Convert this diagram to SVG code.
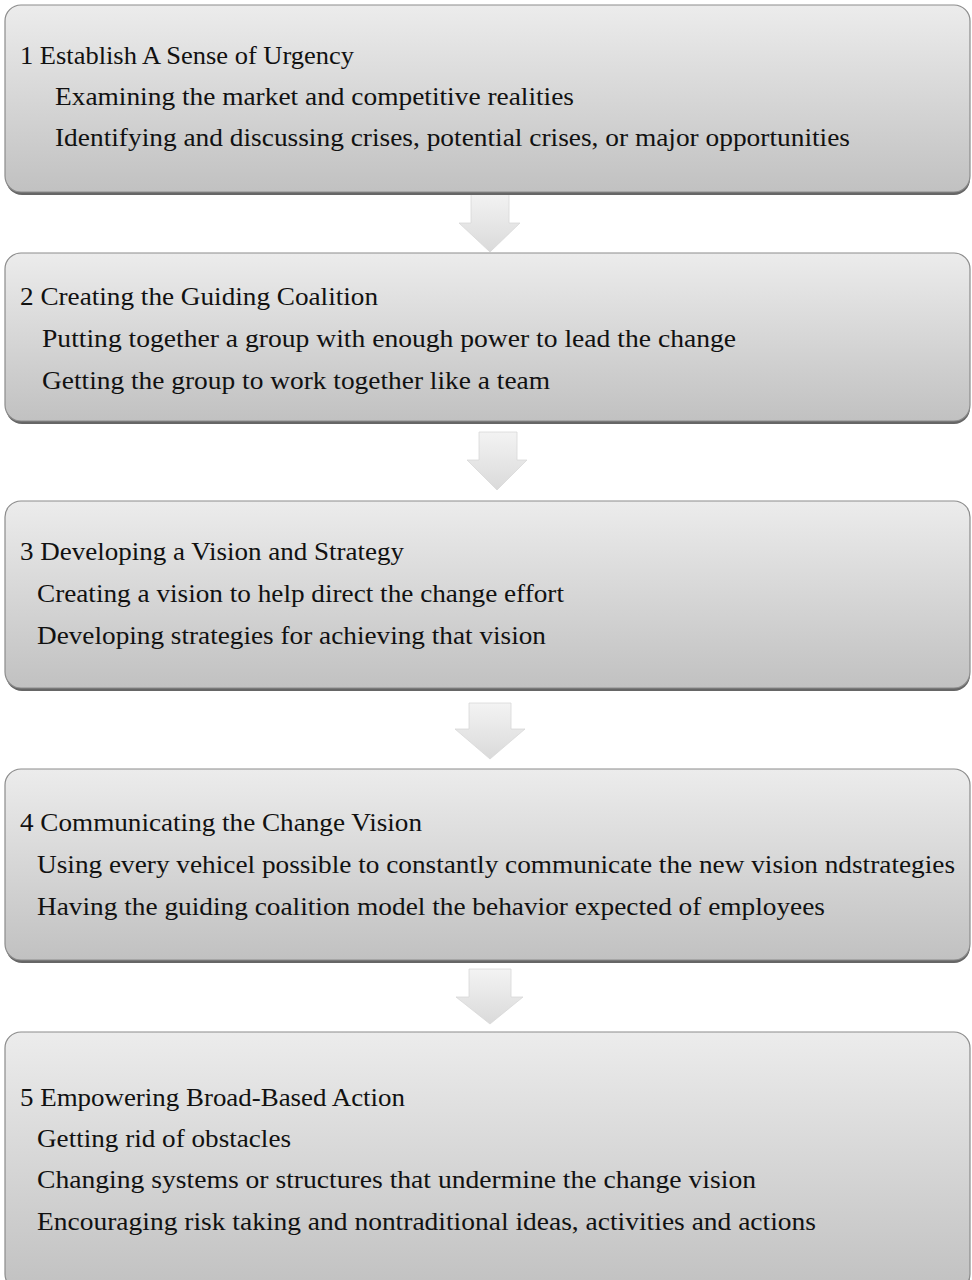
<svg xmlns="http://www.w3.org/2000/svg" width="972" height="1280" viewBox="0 0 972 1280">
<defs>
<linearGradient id="boxg" x1="0" y1="0" x2="0" y2="1">
<stop offset="0" stop-color="#ececec"/>
<stop offset="1" stop-color="#c1c1c1"/>
</linearGradient>
<linearGradient id="arrg" x1="0" y1="0" x2="0" y2="1">
<stop offset="0" stop-color="#f3f3f3"/>
<stop offset="1" stop-color="#dadada"/>
</linearGradient>
<style>
.shadow{fill:#666666;}
.box{fill:url(#boxg);stroke:#8c8c8c;stroke-width:1.2;}
.arrow{fill:url(#arrg);stroke:#d8d8d8;stroke-width:0.8;}
text{font-family:"Liberation Serif","Times New Roman",serif;font-size:25px;fill:#111111;}
</style>
</defs>
<rect width="972" height="1280" fill="#ffffff"/>

<g id="connectors">
<polygon class="arrow" points="471,193 509,193 509,223 520,223 490,252 459,223 471,223"/>
<polygon class="arrow" points="479,432 517,432 517,460 527,460 497,490 467,460 479,460"/>
<polygon class="arrow" points="469,703 511,703 511,729 525,729 490,759 455,729 469,729"/>
<polygon class="arrow" points="469,969 511,969 511,997 523,997 490,1024 456,997 469,997"/>
</g>

<g id="node1">
<rect class="shadow" x="6" y="7" width="964" height="188" rx="16"/>
<rect class="box" x="5" y="5" width="965" height="187" rx="16"/>
<text x="20" y="64" textLength="334" lengthAdjust="spacingAndGlyphs">1 Establish A Sense of Urgency</text>
<text x="55" y="105" textLength="519" lengthAdjust="spacingAndGlyphs">Examining the market and competitive realities</text>
<text x="55" y="146" textLength="795" lengthAdjust="spacingAndGlyphs">Identifying and discussing crises, potential crises, or major opportunities</text>
</g>

<g id="node2">
<rect class="shadow" x="6" y="255" width="964" height="169" rx="16"/>
<rect class="box" x="5" y="253" width="965" height="168" rx="16"/>
<text x="20" y="305" textLength="358" lengthAdjust="spacingAndGlyphs">2 Creating the Guiding Coalition</text>
<text x="42" y="347" textLength="694" lengthAdjust="spacingAndGlyphs">Putting together a group with enough power to lead the change</text>
<text x="42" y="389" textLength="508" lengthAdjust="spacingAndGlyphs">Getting the group to work together like a team</text>
</g>

<g id="node3">
<rect class="shadow" x="6" y="503" width="964" height="188" rx="16"/>
<rect class="box" x="5" y="501" width="965" height="187" rx="16"/>
<text x="20" y="560" textLength="384" lengthAdjust="spacingAndGlyphs">3 Developing a Vision and Strategy</text>
<text x="37" y="602" textLength="527" lengthAdjust="spacingAndGlyphs">Creating a vision to help direct the change effort</text>
<text x="37" y="644" textLength="509" lengthAdjust="spacingAndGlyphs">Developing strategies for achieving that vision</text>
</g>

<g id="node4">
<rect class="shadow" x="6" y="771" width="964" height="192" rx="16"/>
<rect class="box" x="5" y="769" width="965" height="191" rx="16"/>
<text x="20" y="831" textLength="402" lengthAdjust="spacingAndGlyphs">4 Communicating the Change Vision</text>
<text x="37" y="873" textLength="918" lengthAdjust="spacingAndGlyphs">Using every vehicel possible to constantly communicate the new vision ndstrategies</text>
<text x="37" y="915" textLength="788" lengthAdjust="spacingAndGlyphs">Having the guiding coalition model the behavior expected of employees</text>
</g>

<g id="node5">
<rect class="shadow" x="6" y="1034" width="964" height="258" rx="16"/>
<rect class="box" x="5" y="1032" width="965" height="258" rx="16"/>
<text x="20" y="1106" textLength="385" lengthAdjust="spacingAndGlyphs">5 Empowering Broad-Based Action</text>
<text x="37" y="1147" textLength="254" lengthAdjust="spacingAndGlyphs">Getting rid of obstacles</text>
<text x="37" y="1188" textLength="719" lengthAdjust="spacingAndGlyphs">Changing systems or structures that undermine the change vision</text>
<text x="37" y="1230" textLength="779" lengthAdjust="spacingAndGlyphs">Encouraging risk taking and nontraditional ideas, activities and actions</text>
</g>
</svg>
